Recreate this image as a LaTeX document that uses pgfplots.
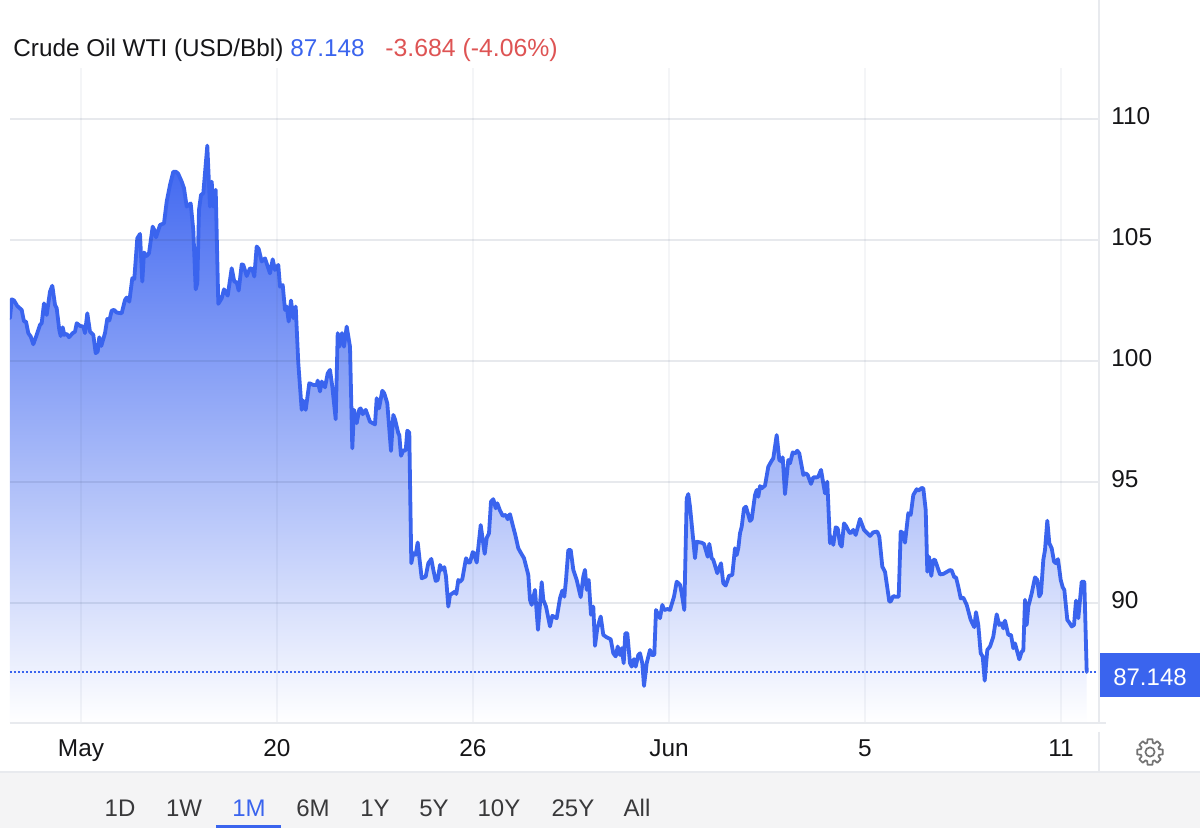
\documentclass[border=0pt]{standalone}
\usepackage{pgfplots}
\usepackage{pgfplotstable}
\pgfplotsset{compat=1.18}
\usepackage{fontspec}
\setmainfont{Liberation Sans}
\definecolor{oilblue}{RGB}{58,100,238}
\definecolor{topfill}{RGB}{60,100,240}
\definecolor{redtxt}{RGB}{222,84,84}
\definecolor{rule}{RGB}{232,234,238}
\definecolor{band}{RGB}{244,244,245}
\definecolor{gridtint}{RGB}{40,60,100}
\definecolor{ink}{RGB}{22,22,24}
\newcommand\px[2]{({(#1-10)*0.5pt},{(723-#2)*0.5pt})}
\pgfplotstableread{
x y
10.0 101.77
11.7 102.55
14.0 102.50
17.3 102.27
21.7 102.11
24 101.63
26 101.63
28.3 101.15
30.7 101.01
33.3 100.69
36.7 101.08
40 101.49
41.7 101.56
44 102.38
46.7 101.90
50 102.87
52.3 103.11
55 102.32
56.7 102.18
59.3 101.28
60.7 101.03
62.7 101.39
64.3 101.08
66.7 101.12
69 100.98
72.7 101.15
75 101.21
76.7 101.56
80 101.45
83.3 101.42
85 101.15
87.3 101.97
90 101.21
93.3 101.08
95.7 100.32
97.7 100.39
99.3 100.98
101.3 100.62
105 101.15
107.3 101.74
109.3 101.67
111.7 102.08
114 102.11
116.7 102.00
121.7 101.97
125 102.52
126.7 102.62
129.3 102.45
132.3 103.42
134.3 103.39
137.3 105.07
140 105.25
142.3 103.28
144 104.48
146.7 104.34
149 104.45
152.7 105.55
154.3 105.41
156 105.11
160 105.62
164 105.69
166.7 106.59
170 107.27
173.3 107.82
176 107.82
178.3 107.73
181.7 107.41
184 107.14
186.7 106.38
190.7 106.51
193.3 105.41
195.7 102.96
197.3 103.21
199 106.24
201 106.86
203.3 106.93
207.3 108.90
210 106.38
211.7 107.41
213.3 106.38
215.7 107.07
218.3 102.36
221.7 102.59
224 102.96
227.7 102.70
231.7 103.83
234.3 103.28
236.7 103.25
238.7 102.91
241.7 103.99
243.3 103.97
246.7 103.51
250 103.83
252.3 103.80
254.3 103.49
256.7 104.73
258.7 104.63
261.7 104.11
265 104.24
270 103.62
272.7 104.20
275 103.76
278.3 103.97
280 103.07
282.7 103.14
285 102.11
286.7 102.25
288.7 101.63
291 102.50
293.3 101.77
295.7 102.25
298.3 99.91
301.7 97.98
303.3 98.36
305.7 97.98
309.3 99.08
313.3 99.01
316.7 99.01
317.7 99.19
320 98.74
321.7 99.15
325 98.91
327.7 99.49
330 99.63
332.3 98.94
335.7 97.59
337.7 101.15
339.3 100.59
342 101.15
344 100.59
346.7 101.42
350 100.59
352.3 96.39
354 97.98
356.7 97.43
359.3 98.00
360.7 98.04
362.7 97.80
365.7 97.98
370 97.49
375 97.38
376.7 98.46
379 98.04
382.3 98.77
384.3 98.66
387.3 98.25
391 96.28
393.3 97.77
395 97.59
398.3 97.01
399.3 96.94
401 96.08
403.3 96.30
405.7 96.30
407.3 97.12
409.3 97.04
410 95.08
411.3 91.64
413.3 92.06
415.7 91.99
417.7 92.50
420 91.64
421.7 91.02
425.7 91.09
428.3 91.64
431.3 91.82
433.3 91.37
435.7 90.91
437.7 90.95
440 91.57
441.7 91.37
444.3 91.48
446 91.09
448.3 89.85
450 90.33
455 90.47
456.3 90.37
458.3 90.95
460 90.88
462.3 90.98
466 91.85
468.3 91.67
470 91.67
472.7 92.10
474 92.06
476.7 91.67
480.7 93.22
482.3 92.74
484.7 92.03
486.7 92.68
489 92.88
491 94.19
493.3 94.29
495.7 93.91
497.3 94.12
500 93.82
502.7 93.60
505.7 93.64
507.7 93.46
510 93.67
512.7 93.22
515.3 92.81
518.3 92.26
520.7 92.08
524 91.85
528.3 91.16
530 90.13
531.7 89.92
535 90.54
538 88.89
541.7 90.86
543.3 90.13
546 89.85
550 89.03
552.3 89.47
556.7 89.37
560 90.20
562.3 90.51
564.3 90.26
566 90.95
568.3 92.19
570.7 92.19
573.3 91.37
576.7 90.95
580.7 90.24
583.3 91.09
585 91.37
586.7 90.54
588.7 90.95
591 89.51
593.3 89.85
595 88.23
597.3 88.96
600.7 89.44
603.3 88.68
606.7 88.58
610.7 88.50
613.3 87.92
615.7 87.79
617.7 88.20
620 87.85
621.7 88.13
623.7 87.51
625.3 88.75
627.3 88.75
630 87.51
631.7 87.37
634 87.68
635.7 87.37
638.3 87.85
640 87.92
642.3 87.51
644 86.57
646.7 87.51
650 88.06
651.7 87.85
654.3 87.85
656 89.71
660 89.37
662.3 89.92
664.3 89.71
667.7 89.75
670 89.71
674 90.26
676.7 90.88
680 90.75
681.7 90.40
684.3 89.71
686.7 94.32
688.3 94.50
690 93.98
695 91.85
696.7 92.53
701.7 92.49
704 92.44
707.7 91.91
709.3 92.44
711.7 91.85
713.3 91.78
717.3 91.23
721 91.64
723.3 90.81
725.7 90.72
729 91.12
732.3 91.16
735 92.26
736.7 91.98
738.3 92.26
740 92.88
741.7 93.15
744 93.91
746 93.98
750 93.39
751.7 93.46
755 94.46
756.7 94.67
758.3 94.39
760 94.83
761.7 94.74
765 94.85
768.3 95.63
771.7 95.88
773.3 95.98
776.7 96.94
779.3 95.91
781.7 95.84
782.7 96.02
785 94.50
788.3 95.91
790 95.77
792.7 96.22
795 96.18
797.3 96.29
799.3 96.18
803.3 95.29
805.7 95.36
807.7 95.29
811 94.92
813.3 95.19
816.7 95.19
818.3 95.22
821 95.50
825 94.53
827.3 95.01
830 92.47
831.7 92.71
833.3 92.40
835.7 93.13
837.7 93.08
840 92.44
841.7 92.33
844 93.29
846 93.18
849.3 92.92
850.7 92.88
853.3 93.02
855.7 92.81
860 93.47
864 93.02
870 92.77
873.3 92.92
877.3 92.95
879.3 92.74
882.3 91.50
885 91.29
889.3 90.06
890.7 90.06
893.3 90.29
895 90.26
898.7 90.26
900.7 92.95
903.3 92.88
905 92.49
908.3 93.71
910.7 93.64
913.3 94.46
916.7 94.70
918.3 94.64
921.7 94.75
923.3 94.74
925.7 93.84
927.3 91.29
929 91.91
931.3 91.12
933.3 91.78
935 91.78
940 91.18
943.3 91.20
950 91.36
951.7 91.34
954.3 91.06
956 91.06
958.3 90.67
960.7 90.19
963.3 90.22
966.7 89.92
970.7 89.30
974.3 89.00
976 89.62
978.3 89.09
980.7 87.92
982.7 87.79
984.7 86.79
987.3 88.06
990 88.20
993.3 88.61
996.7 89.53
999.3 89.09
1001.7 89.16
1003.3 88.95
1005 89.27
1008.3 88.68
1011 88.68
1013.3 88.13
1015 88.33
1019.3 87.67
1021.7 87.99
1023.3 88.03
1025 90.13
1026.7 89.09
1028.3 89.85
1031.7 90.40
1035 91.06
1037.3 90.95
1039.3 90.27
1041 90.40
1043.3 91.78
1045 92.19
1047.3 93.40
1049.3 92.47
1051.7 92.26
1054 91.71
1056 91.64
1058 91.81
1060.7 90.95
1062.7 90.65
1064.3 90.54
1067.3 89.30
1069.3 89.19
1071.7 89.03
1074 89.09
1076 90.10
1078.3 89.37
1081.7 90.88
1084.3 90.88
1086.7 87.148
}\oil
\begin{document}
\begin{tikzpicture}[font=\fontsize{12}{14}\selectfont]
\path[use as bounding box,fill=white] \px{0}{0} rectangle \px{1200}{828};
\fill[band] \px{0}{773} rectangle \px{1200}{828};
\draw[rule,line width=1pt] \px{0}{772.5} -- \px{1200}{772.5};
\begin{axis}[
  at={(0,0)},anchor=south west,
  scale only axis,width=544.5pt,height=327.5pt,
  xmin=10,xmax=1099,ymin=85.04,ymax=112.107,
  axis on top,
  axis line style={draw=none},
  xtick={81,277,473,669,865,1061},
  xticklabels={May,20,26,Jun,5,11},
  ytick={90,95,100,105,110},
  ytick pos=right,yticklabel pos=right,
  xtick pos=bottom,
  grid=major,
  x grid style={draw=gridtint,draw opacity=0.05,line width=0.7pt},
  y grid style={draw=gridtint,draw opacity=0.11,line width=1pt},
  major tick length=3.5pt,
  xtick style={draw=none},
  ytick style={draw=rule,line width=1pt},
  /pgf/number format/assume math mode=true,
  tick label style={font=\fontsize{12.2}{14}\selectfont,text=ink},
  yticklabel style={anchor=west,inner xsep=0pt,xshift=6pt,yshift=1.2pt},
  xticklabel style={anchor=base,yshift=-17pt},
  clip=true,
]
\addplot[draw=none,forget plot,top color=topfill,bottom color=white,shading angle=0]
  table[x=x,y=y] {\oil} |- (axis cs:10,85.04) -- cycle;
\addplot[oilblue,line width=0.6pt,forget plot,dash pattern=on 1pt off 1pt] coordinates {(10,87.148) (1099,87.148)};
\addplot[oilblue,line width=1.9pt,line join=round,line cap=round,mark=none] table[x=x,y=y] {\oil};
\end{axis}
\draw[rule,line width=1pt] \px{10}{723.5} -- \px{1106}{723.5};
\draw[rule,line width=1pt] \px{1099}{0} -- \px{1099}{724};
\draw[rule,line width=1pt] \px{1099}{732} -- \px{1099}{773};
% price box
\fill[oilblue] \px{1100}{653.5} rectangle \px{1200}{697};
\node[text=white,anchor=center,inner sep=0pt] at \px{1150}{677} {87.148};
% header
\node[anchor=base west,inner sep=0pt,text=ink,font=\fontsize{12.15}{14}\selectfont] at \px{13}{56.5} {Crude Oil WTI (USD/Bbl)};
\node[anchor=base west,inner sep=0pt,text=oilblue,font=\fontsize{12.15}{14}\selectfont] at \px{290}{56.5} {87.148};
\node[anchor=base west,inner sep=0pt,text=redtxt,font=\fontsize{12.4}{14}\selectfont] at \px{385}{56.5} {-3.684 (-4.06\%)};
% range selector
\foreach \lab/\cx in {1D/120,1W/184,6M/313,1Y/375,5Y/434,10Y/499,25Y/573,All/637}
  \node[anchor=base,inner sep=0pt,text=ink!85] at \px{\cx}{817} {\lab};
\node[anchor=base,inner sep=0pt,text=oilblue] at \px{249}{817} {1M};
\fill[oilblue] \px{216}{825.5} rectangle \px{281}{828};
% settings gear
\begin{scope}[shift={(570pt,-14.5pt)},x=0.5pt,y=0.5pt]
  \draw[gray!90!black,line width=0.85pt,line join=round]
    (-17:9.5) \foreach \a in {0,45,...,315}{ -- ({\a-11}:13) -- ({\a+11}:13) -- ({\a+17}:9.5) -- ({\a+28}:9.5) } -- cycle;
  \draw[gray!90!black,line width=0.85pt] (0,0) circle (4.6);
\end{scope}
\end{tikzpicture}
\end{document}
